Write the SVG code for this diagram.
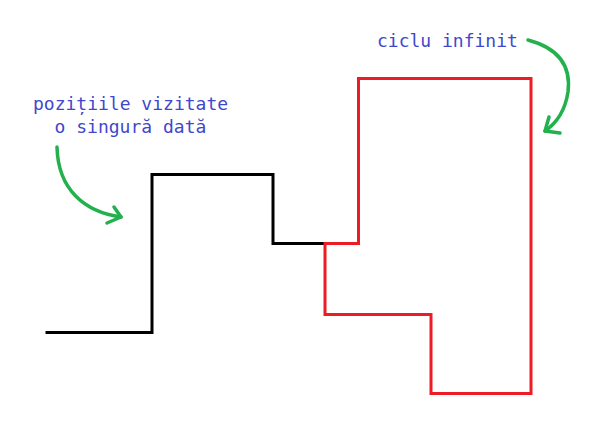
<svg xmlns="http://www.w3.org/2000/svg" width="600" height="441" viewBox="0 0 600 441">
<style>
.lbl{font-family:"DejaVu Sans Mono","Liberation Mono",monospace;font-size:18px;fill:#3f48cc}
.blk{fill:none;stroke:#000;stroke-width:3;stroke-linejoin:miter;stroke-linecap:square}
.red{fill:none;stroke:#ed1c24;stroke-width:3;stroke-linejoin:miter;stroke-linecap:square}
.arr{fill:none;stroke:#22b14c;stroke-width:3.5;stroke-linecap:round;stroke-linejoin:round}
</style>
<rect width="600" height="441" fill="#fff"/>
<g id="path-visited">
<polyline class="blk" points="47,332.5 152,332.5 152,174.5 273,174.5 273,243.5 325,243.5"/>
</g>
<g id="path-cycle">
<polygon class="red" points="325,243.5 358.5,243.5 358.5,78.5 531,78.5 531,393.5 431,393.5 431,314.5 325,314.5"/>
</g>
<g id="label-visited">
<text class="lbl" x="33" y="110">pozițiile vizitate</text>
<text class="lbl" x="54.6" y="133">o singură dată</text>
</g>
<g id="label-cycle">
<text class="lbl" x="377" y="47">ciclu infinit</text>
</g>
<g id="connectors">
<path class="arr" d="M57,147 C58,190 85,212 121,217"/>
<path class="arr" d="M114,207 L121,217 L107,223"/>
<path class="arr" d="M528,40 Q573,52 568,92 Q564,118 545,131"/>
<path class="arr" d="M549,117 L545,131 L560,133"/>
</g>
</svg>
